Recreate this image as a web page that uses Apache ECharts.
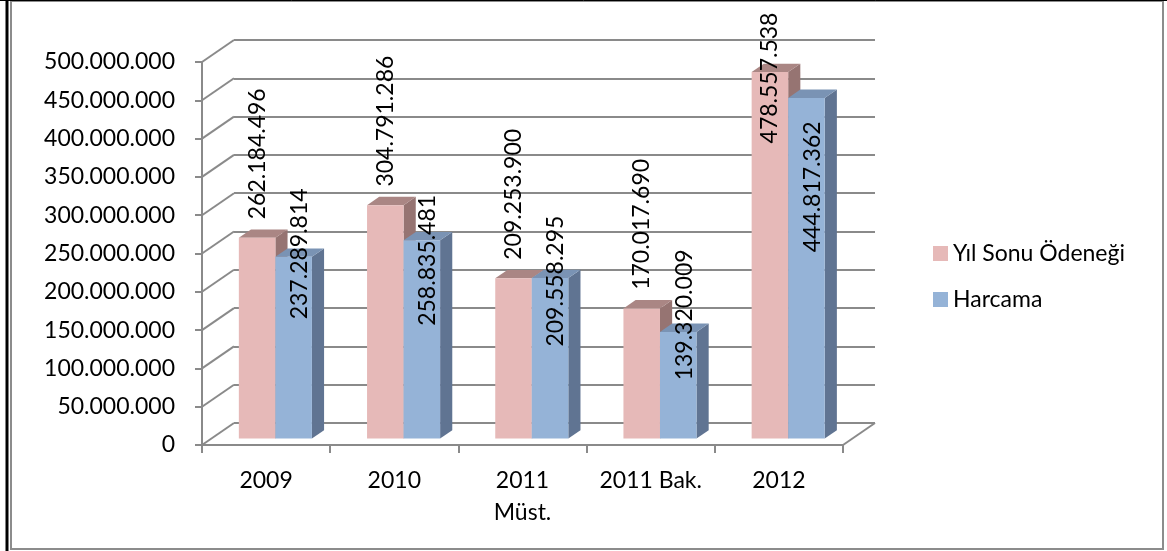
<!DOCTYPE html>
<html>
<head>
<meta charset="utf-8">
<script src="https://cdn.jsdelivr.net/npm/echarts@6/dist/echarts.min.js"></script>
<style>
html,body{margin:0;padding:0;background:#fff;}
#chart{width:1167px;height:551px;}
</style>
</head>
<body>
<div id="chart"></div>
<script>
// ---- data ----
const categories = ['2009', '2010', '2011\nMüst.', '2011 Bak.', '2012'];
const yilSonuOdenegi = [262184496, 304791286, 209253900, 170017690, 478557538];
const harcama = [237289814, 258835481, 209558295, 139320009, 444817362];
const seriesNames = ['Yıl Sonu Ödeneği', 'Harcama'];
const yMin = 0, yMax = 500000000, yInterval = 50000000;

// ---- layout / style ----
const FONT = 'Lato';
const FS = 23;
const FRONT = {left: 202, top: 62, width: 641, height: 383};
const DX = 32, DY = -22;           // depth of the 3D box
const BACK = {left: FRONT.left + DX, top: FRONT.top + DY, width: FRONT.width, height: FRONT.height};
const BAR_POS = 0.29, BAR_DEPTH = 0.38, BAR_W = 0.285;
const GRID_COLOR = '#8a8a8a';
const COLORS = [
  {front: '#E6B9B8', top: '#AA8684', side: '#967472'},
  {front: '#95B3D7', top: '#7A93B4', side: '#607492'}
];
const blueLabelShift = [-3, 20, 3, -17, 89];
const PINK_LABEL_GAP = 84;

const fmt = v => String(Math.round(v)).replace(/\B(?=(\d{3})+(?!\d))/g, '.');

function barGeom(api, idx, side) {
  const cat = api.value(0), v = api.value(1);
  const base = api.coord([cat, 0]);
  const top = api.coord([cat, v]);
  const band = api.size([1, 0])[0];
  const w = band * BAR_W;
  const cx = base[0] + DX * BAR_POS;
  const x0 = side === 0 ? cx - w : cx;
  return {x0: x0, x1: x0 + w, yb: base[1] + DY * BAR_POS, yt: top[1] + DY * BAR_POS, w: w};
}

function barRenderer(side) {
  const c = COLORS[side];
  return function (params, api) {
    const g = barGeom(api, params.dataIndex, side);
    const ddx = DX * BAR_DEPTH, ddy = DY * BAR_DEPTH;
    return {
      type: 'group',
      children: [
        {type: 'polygon', shape: {points: [[g.x1, g.yt], [g.x1 + ddx, g.yt + ddy], [g.x1 + ddx, g.yb + ddy], [g.x1, g.yb]]}, style: {fill: c.side}},
        {type: 'polygon', shape: {points: [[g.x0, g.yt], [g.x1, g.yt], [g.x1 + ddx, g.yt + ddy], [g.x0 + ddx, g.yt + ddy]]}, style: {fill: c.top}},
        {type: 'rect', shape: {x: g.x0, y: g.yt, width: g.w, height: g.yb - g.yt}, style: {fill: c.front}}
      ]
    };
  };
}

function labelRenderer(side) {
  return function (params, api) {
    const g = barGeom(api, params.dataIndex, side);
    let x, y;
    if (side === 0) {
      x = (g.x0 + g.x1) / 2;
      y = Math.max(g.yt - PINK_LABEL_GAP, FRONT.top + 16);
    } else {
      x = (g.x0 + g.x1) / 2 + 6;
      y = g.yt + blueLabelShift[params.dataIndex];
    }
    return {
      type: 'text', x: x, y: y, rotation: Math.PI / 2,
      style: {text: fmt(api.value(1)), fill: '#000', font: FS + 'px ' + FONT, align: 'center', verticalAlign: 'middle'}
    };
  };
}

const tickValues = [];
for (let v = yMin; v <= yMax; v += yInterval) tickValues.push([0, v]);

const chart = echarts.init(document.getElementById('chart'), null, {renderer: 'canvas'});
chart.setOption({
  animation: false,
  backgroundColor: '#fff',
  textStyle: {fontFamily: FONT},
  graphic: [
    {type: 'rect', shape: {x: 11, y: 1, width: 1152, height: 548}, style: {fill: 'none', stroke: '#8c8c8c', lineWidth: 2}, z: 100},
    {type: 'line', shape: {x1: 7, y1: 0, x2: 7, y2: 551}, style: {stroke: '#000', lineWidth: 3}, z: 100},
    {type: 'line', shape: {x1: 0, y1: 0.5, x2: 1167, y2: 0.5}, style: {stroke: '#000', lineWidth: 1}, z: 100}
  ],
  legend: {
    orient: 'vertical', left: 933, top: 242, padding: 0,
    itemWidth: 15, itemHeight: 15, itemGap: 23, icon: 'rect',
    data: seriesNames,
    textStyle: {fontFamily: FONT, fontSize: FS, color: '#000'}
  },
  grid: [
    {left: FRONT.left, top: FRONT.top, width: FRONT.width, height: FRONT.height},
    {left: BACK.left, top: BACK.top, width: BACK.width, height: BACK.height}
  ],
  xAxis: [
    {type: 'category', gridIndex: 0, data: categories,
      axisLine: {lineStyle: {color: GRID_COLOR, width: 2}},
      axisTick: {show: true, length: 8, lineStyle: {color: GRID_COLOR, width: 2}},
      axisLabel: {color: '#000', fontFamily: FONT, fontSize: FS, margin: 20, lineHeight: 32, interval: 0}},
    {type: 'category', gridIndex: 1, data: categories, show: false}
  ],
  yAxis: [
    {type: 'value', gridIndex: 0, min: yMin, max: yMax, interval: yInterval,
      axisLine: {show: true, lineStyle: {color: GRID_COLOR, width: 2}},
      axisTick: {show: true, length: 7, lineStyle: {color: GRID_COLOR, width: 2}},
      splitLine: {show: false},
      axisLabel: {color: '#000', fontFamily: FONT, fontSize: FS, margin: 27, formatter: fmt}},
    {type: 'value', gridIndex: 1, min: yMin, max: yMax, interval: yInterval,
      axisLine: {show: false}, axisTick: {show: false}, axisLabel: {show: false},
      splitLine: {show: true, lineStyle: {color: GRID_COLOR, width: 2}}}
  ],
  series: [
    {type: 'custom', name: 'diag', xAxisIndex: 0, yAxisIndex: 0, clip: false, silent: true,
      data: tickValues, encode: {x: 0, y: 1},
      renderItem: function (params, api) {
        const cs = params.coordSys;
        const p = api.coord([0, api.value(1)]);
        const ls = {stroke: GRID_COLOR, lineWidth: 2};
        const ch = [{type: 'line', shape: {x1: cs.x, y1: p[1], x2: cs.x + DX, y2: p[1] + DY}, style: ls}];
        if (api.value(1) === yMin) {
          ch.push({type: 'line', shape: {x1: cs.x + cs.width, y1: p[1], x2: cs.x + cs.width + DX, y2: p[1] + DY}, style: ls});
        }
        return {type: 'group', children: ch};
      }},
    {type: 'custom', name: seriesNames[0], xAxisIndex: 0, yAxisIndex: 0, clip: false,
      itemStyle: {color: COLORS[0].front},
      data: yilSonuOdenegi.map((v, i) => [i, v]), encode: {x: 0, y: 1},
      renderItem: barRenderer(0)},
    {type: 'custom', name: seriesNames[1], xAxisIndex: 0, yAxisIndex: 0, clip: false,
      itemStyle: {color: COLORS[1].front},
      data: harcama.map((v, i) => [i, v]), encode: {x: 0, y: 1},
      renderItem: barRenderer(1)},
    {type: 'custom', name: 'lbl0', xAxisIndex: 0, yAxisIndex: 0, clip: false, silent: true, z: 5,
      data: yilSonuOdenegi.map((v, i) => [i, v]), encode: {x: 0, y: 1},
      renderItem: labelRenderer(0)},
    {type: 'custom', name: 'lbl1', xAxisIndex: 0, yAxisIndex: 0, clip: false, silent: true, z: 5,
      data: harcama.map((v, i) => [i, v]), encode: {x: 0, y: 1},
      renderItem: labelRenderer(1)}
  ]
});
</script>
</body>
</html>
